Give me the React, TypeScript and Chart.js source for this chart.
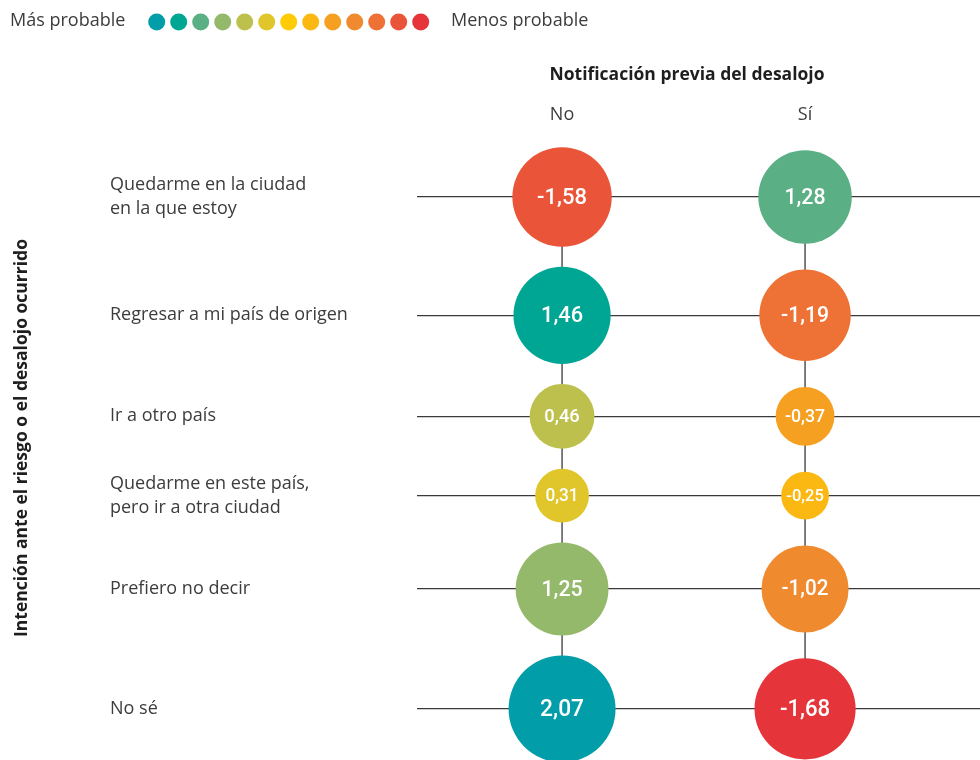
import React, { useEffect, useRef } from 'react';
import { Chart, registerables } from 'chart.js';

Chart.register(...registerables);

// ---- Data ----
const rowLabels: (string | string[])[] = [
  ['Quedarme en la ciudad', 'en la que estoy'],
  'Regresar a mi país de origen',
  'Ir a otro país',
  ['Quedarme en este país,', 'pero ir a otra ciudad'],
  'Prefiero no decir',
  'No sé',
];
const columnLabels = ['No', 'Sí'];
const valuesNo = [-1.58, 1.46, 0.46, 0.31, 1.25, 2.07];
const valuesSi = [1.28, -1.19, -0.37, -0.25, -1.02, -1.68];
const palette = [
  '#019DA8', '#00A694', '#5AAF84', '#94B96B', '#BEC04E', '#E0C62B', '#FFCB05',
  '#FBB813', '#F5A020', '#F08A2E', '#EE7236', '#EA5439', '#E5343A',
];
const legendLeft = 'Más probable';
const legendRight = 'Menos probable';
const xTitle = 'Notificación previa del desalojo';
const yTitle = 'Intención ante el riesgo o el desalojo ocurrido';

// ---- Derived layout helpers ----
const radiusFor = (v: number) => 43.3 + 14 * Math.log(Math.abs(v));
const ROW_GAP = 20;
const rowMaxR = valuesNo.map((v, i) => Math.max(radiusFor(v), radiusFor(valuesSi[i])));
const rowPositions: number[] = [];
rowMaxR.forEach((r, i) => {
  if (i === 0) rowPositions.push(0);
  else rowPositions.push(rowPositions[i - 1] + rowMaxR[i - 1] + r + ROW_GAP);
});

const allValues = [...valuesNo, ...valuesSi];
const positives = allValues.filter((v) => v > 0).sort((a, b) => b - a);
const negatives = allValues.filter((v) => v < 0).sort((a, b) => a - b);
const colorFor = (v: number) =>
  v > 0 ? palette[positives.indexOf(v)] : palette[palette.length - 1 - negatives.indexOf(v)];
const fmt = (v: number) => v.toFixed(2).replace('.', ',');

const LABEL_FONT = '"Open Sans", "Noto Sans", sans-serif';
const LABEL_SIZE = 18;
const TEXT = '#3c3c3c';
const LINE = '#3a3a3a';

const decorPlugin = {
  id: 'decor',
  afterDatasetsDraw(chart: any) {
    const ctx = chart.ctx as CanvasRenderingContext2D;
    chart.data.datasets.forEach((ds: any, di: number) => {
      if (ds.type !== 'bubble') return;
      const meta = chart.getDatasetMeta(di);
      meta.data.forEach((el: any, i: number) => {
        const raw = ds.data[i];
        const size = 12 + 0.22 * raw.r;
        ctx.save();
        ctx.translate(el.x, el.y + 1);
        ctx.scale(0.96, 1);
        ctx.font = `500 ${size}px Roboto, sans-serif`;
        ctx.fillStyle = '#ffffff';
        ctx.textAlign = 'center';
        ctx.textBaseline = 'middle';
        ctx.fillText(fmt(raw.v), 0, 0);
        ctx.restore();
      });
    });
  },
  afterDraw(chart: any) {
    const ctx = chart.ctx as CanvasRenderingContext2D;
    ctx.save();
    ctx.textBaseline = 'middle';
    ctx.textAlign = 'left';
    ctx.font = `normal 18px ${LABEL_FONT}`;
    ctx.fillStyle = TEXT;
    ctx.fillText(legendLeft, 10, 21);
    palette.forEach((c, i) => {
      ctx.beginPath();
      ctx.arc(156.7 + i * 22, 22, 8.5, 0, Math.PI * 2);
      ctx.fillStyle = c;
      ctx.fill();
    });
    ctx.fillStyle = TEXT;
    ctx.fillText(legendRight, 451, 21);

    ctx.font = `bold 17.5px ${LABEL_FONT}`;
    ctx.fillStyle = '#1e1e1e';
    ctx.textAlign = 'center';
    ctx.fillText(xTitle, 687, 75);

    ctx.translate(22, 438);
    ctx.rotate(-Math.PI / 2);
    ctx.fillText(yTitle, 0, 0);
    ctx.restore();
  },
};

export default function App() {
  const ref = useRef<HTMLCanvasElement | null>(null);

  useEffect(() => {
    if (!ref.current) return;
    const LABEL_LEFT = 110;
    const PLOT_LEFT = 417;
    const TOP_H = 140;
    const firstRowPx = 197;
    const chartH = 760 - TOP_H;
    const yMin = -(firstRowPx - TOP_H);
    const yMax = yMin + chartH;

    const zeroPad = (s: any) => {
      s.paddingTop = 0;
      s.paddingBottom = 0;
      s.paddingLeft = 0;
      s.paddingRight = 0;
    };

    const lineDs = (col: number) => ({
      type: 'line' as const,
      data: rowPositions.map((p) => ({ x: col, y: p })),
      borderColor: LINE,
      borderWidth: 1.3,
      pointRadius: 0,
      order: 2,
      clip: false as const,
    });
    const bubbleDs = (col: number, vals: number[]) => ({
      type: 'bubble' as const,
      data: vals.map((v, i) => ({ x: col, y: rowPositions[i], r: radiusFor(v), v })),
      backgroundColor: vals.map(colorFor),
      borderWidth: 0,
      hoverBorderWidth: 0,
      order: 1,
      clip: false as const,
    });

    const chart = new Chart(ref.current, {
      type: 'bubble',
      data: {
        datasets: [lineDs(0), lineDs(1), bubbleDs(0, valuesNo), bubbleDs(1, valuesSi)] as any,
      },
      options: {
        responsive: false,
        animation: false,
        devicePixelRatio: 1,
        events: [],
        layout: { padding: { left: LABEL_LEFT, top: 0, right: 0, bottom: 0 }, autoPadding: false },
        plugins: { legend: { display: false }, tooltip: { enabled: false } },
        scales: {
          x: {
            type: 'linear',
            position: 'top',
            min: -0.597,
            max: 1.72,
            afterFit: (s: any) => {
              s.height = TOP_H;
              zeroPad(s);
            },
            afterBuildTicks: (s: any) => {
              s.ticks = columnLabels.map((_, i) => ({ value: i }));
            },
            grid: { display: false, drawTicks: false },
            border: { display: false },
            ticks: {
              padding: 14,
              color: TEXT,
              font: { family: LABEL_FONT, size: LABEL_SIZE },
              callback: (v: any) => columnLabels[Number(v)],
            },
          },
          y: {
            type: 'linear',
            reverse: true,
            min: yMin,
            max: yMax,
            afterFit: (s: any) => {
              s.width = PLOT_LEFT - LABEL_LEFT;
              zeroPad(s);
            },
            afterBuildTicks: (s: any) => {
              s.ticks = rowPositions.map((p) => ({ value: p }));
            },
            grid: { color: LINE, lineWidth: 1.3, drawTicks: false },
            border: { display: false },
            ticks: {
              crossAlign: 'far',
              padding: 10,
              color: TEXT,
              font: { family: LABEL_FONT, size: LABEL_SIZE, lineHeight: 24 / LABEL_SIZE },
              callback: (_v: any, i: number) => rowLabels[i],
            },
          },
        },
      },
      plugins: [decorPlugin],
    });
    return () => chart.destroy();
  }, []);

  return (
    <div style={{ position: 'absolute', left: 0, top: 0, width: 980, height: 760, background: '#fff' }}>
      <canvas ref={ref} width={980} height={760} style={{ width: 980, height: 760 }} />
    </div>
  );
}
